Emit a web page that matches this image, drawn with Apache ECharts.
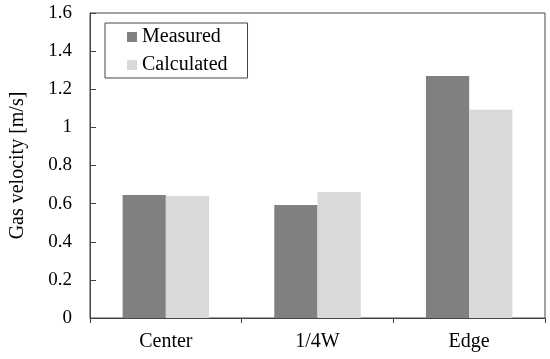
<!DOCTYPE html>
<html><head><meta charset="utf-8">
<script src="https://cdn.jsdelivr.net/npm/echarts@6/dist/echarts.min.js"></script>
<style>html,body{margin:0;padding:0;background:#fff}#c{width:550px;height:359px}</style>
</head><body><div id="c"></div>
<script>
var categories = ['Center', '1/4W', 'Edge'];
var measured = [0.645, 0.593, 1.27];
var calculated = [0.64, 0.661, 1.093];
var yTicks = ['0', '0.2', '0.4', '0.6', '0.8', '1', '1.2', '1.4', '1.6'];

var font = 'Liberation Serif';
var chart = echarts.init(document.getElementById('c'));
chart.setOption({
  animation: false,
  textStyle: {fontFamily: font},
  grid: {left: 86, right: 5, top: 13, bottom: 41, show: true, borderColor: '#444', borderWidth: 1, backgroundColor: 'transparent'},
  legend: {
    left: 105, top: 23, orient: 'vertical', itemWidth: 10, itemHeight: 10, itemGap: 8,
    padding: [4, 20, 3, 22], borderColor: '#444', borderWidth: 1, borderRadius: 0,
    icon: 'rect',
    textStyle: {fontFamily: font, fontSize: 20, color: '#000'},
    data: ['Measured', 'Calculated']
  },
  xAxis: {
    type: 'category', data: categories,
    axisLine: {lineStyle: {color: '#444', width: 1}},
    axisTick: {show: true, inside: false, length: 5, lineStyle: {color: '#444'}},
    axisLabel: {fontFamily: font, fontSize: 20, color: '#000', margin: 14}
  },
  yAxis: {
    type: 'value', min: 0, max: 1.6, interval: 0.2,
    name: 'Gas velocity [m/s]', nameLocation: 'middle', nameGap: 62, nameRotate: 90,
    nameTextStyle: {fontFamily: font, fontSize: 20, color: '#000'},
    axisLine: {show: true, lineStyle: {color: '#444', width: 1}},
    axisTick: {show: true, inside: true, length: 6, lineStyle: {color: '#444'}},
    splitLine: {show: false},
    axisLabel: {fontFamily: font, fontSize: 19, color: '#000', margin: 18,
      formatter: function (v) { return yTicks[Math.round(v / 0.2)]; }}
  },
  series: [
    {name: 'Measured', type: 'bar', data: measured, itemStyle: {color: '#808080'}, barGap: '0%', barCategoryGap: '43%'},
    {name: 'Calculated', type: 'bar', data: calculated, itemStyle: {color: '#d9d9d9'}, barGap: '0%', barCategoryGap: '43%'}
  ]
});
</script></body></html>
